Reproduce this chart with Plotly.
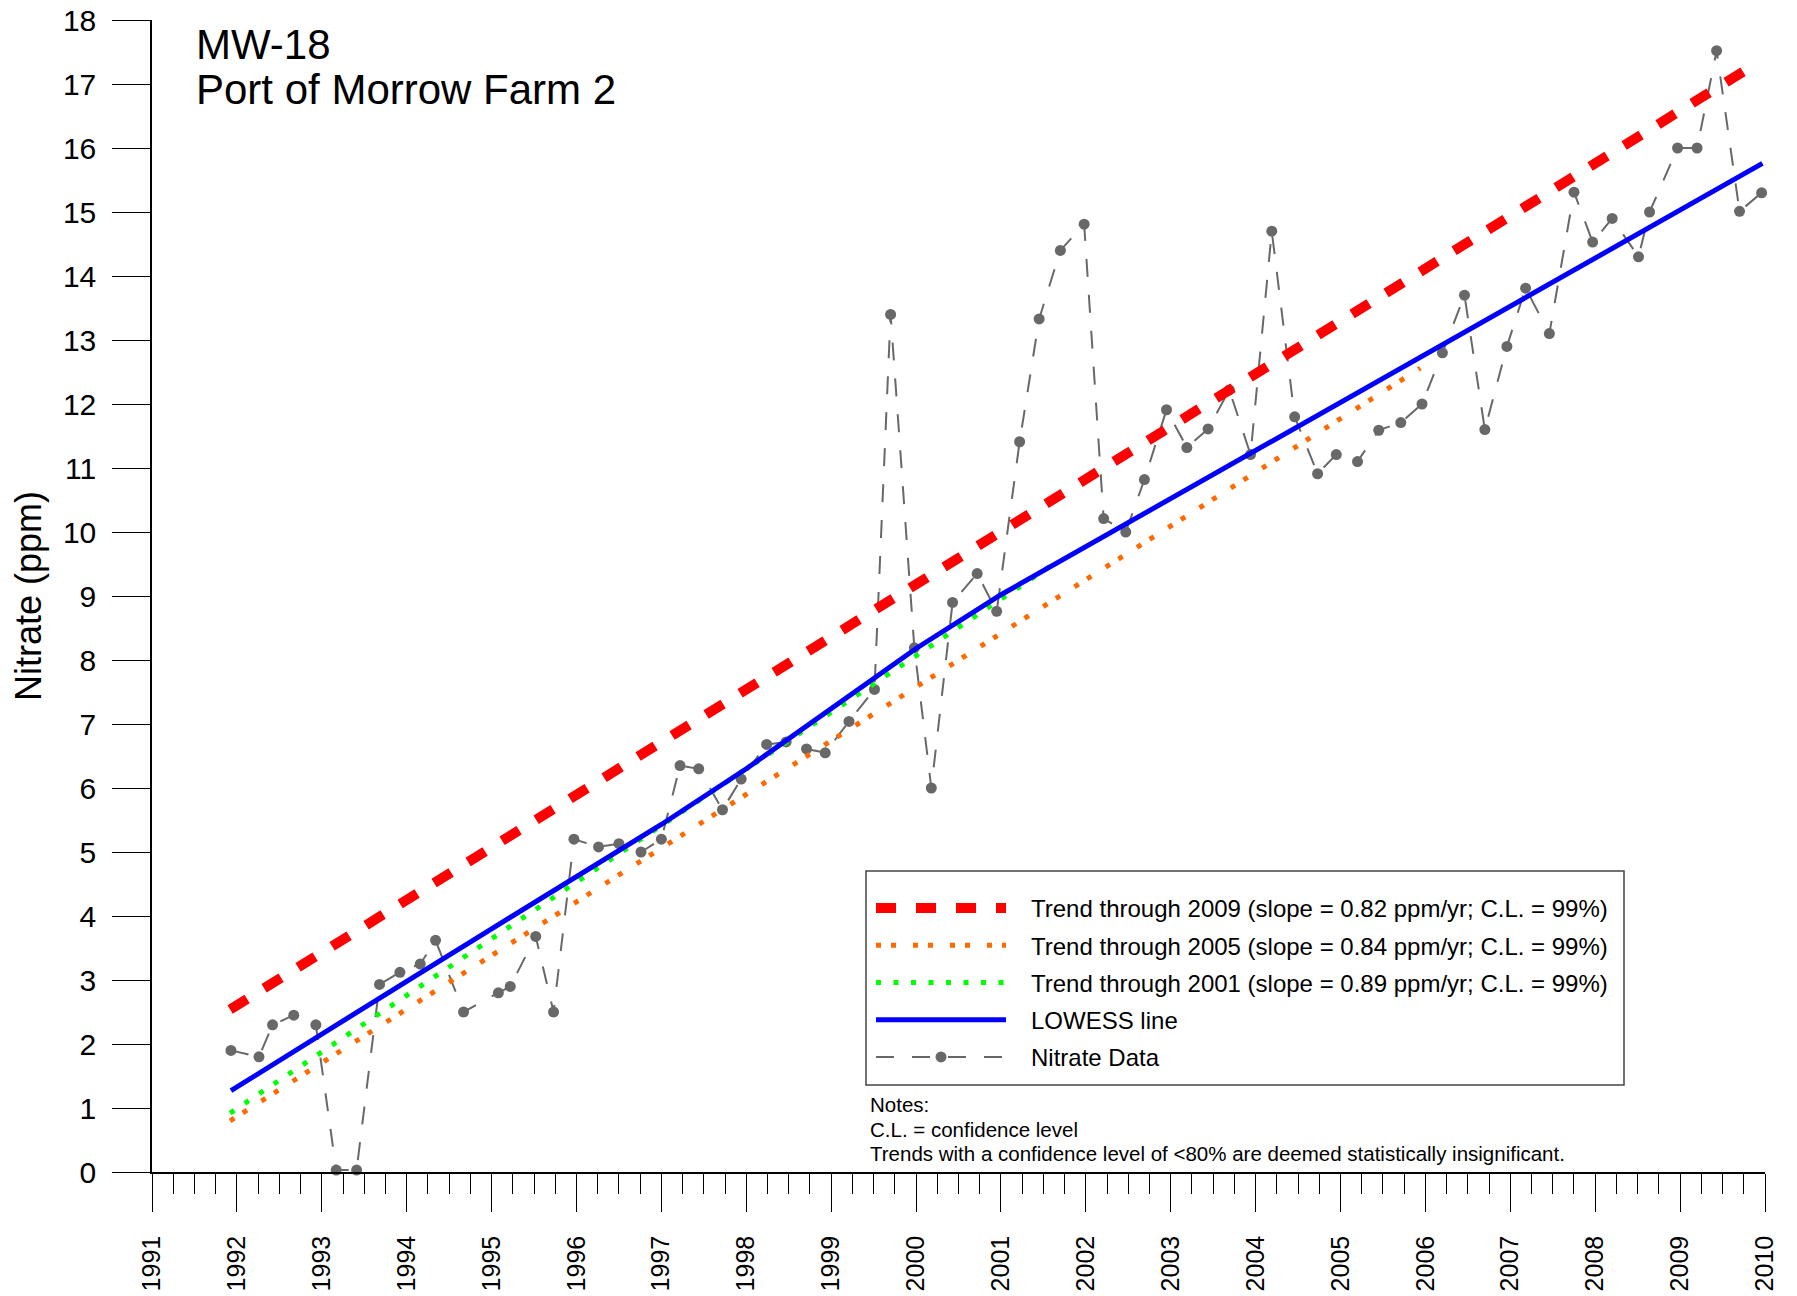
import plotly.graph_objects as go

# ---------------- data ----------------
sample_year = [1991.93, 1992.26, 1992.42, 1992.67, 1992.93, 1993.17, 1993.41, 1993.68,
               1993.92, 1994.16, 1994.34, 1994.67, 1995.08, 1995.22, 1995.52, 1995.73,
               1995.97, 1996.26, 1996.5, 1996.76, 1997.0, 1997.22, 1997.44, 1997.72,
               1997.94, 1998.24, 1998.47, 1998.71, 1998.93, 1999.21, 1999.51, 1999.70,
               1999.98, 2000.18, 2000.43, 2000.72, 2000.95, 2001.22, 2001.45, 2001.70,
               2001.98, 2002.21, 2002.47, 2002.69, 2002.95, 2003.19, 2003.44, 2003.69,
               2003.94, 2004.19, 2004.46, 2004.73, 2004.95, 2005.20, 2005.45, 2005.71,
               2005.96, 2006.20, 2006.46, 2006.70, 2006.96, 2007.18, 2007.46, 2007.75,
               2007.97, 2008.20, 2008.51, 2008.64, 2008.97, 2009.20, 2009.43, 2009.70,
               2009.96]
nitrate = [1.9, 1.8, 2.3, 2.45, 2.3, 0.03, 0.03, 2.93,
           3.12, 3.25, 3.62, 2.5, 2.8, 2.9, 3.68, 2.5,
           5.2, 5.08, 5.13, 5.0, 5.2, 6.35, 6.3, 5.66,
           6.14, 6.68, 6.72, 6.61, 6.55, 7.04, 7.54, 13.4,
           8.19, 6.0, 8.9, 9.35, 8.76, 11.41, 13.33, 14.4,
           14.81, 10.21, 10.0, 10.82, 11.91, 11.32, 11.61, 12.22,
           11.21, 14.7, 11.8, 10.91, 11.21, 11.1, 11.59, 11.71,
           12.0, 12.8, 13.7, 11.6, 12.9, 13.81, 13.1, 15.31,
           14.53, 14.9, 14.3, 15.0, 16.0, 16.0, 17.52, 15.01,
           15.3]

lowess_year = [1991.93, 1993, 1994, 1995, 1996, 1997, 1998, 1999, 2000, 2001,
               2002, 2003, 2004, 2005, 2006, 2007, 2008, 2009, 2009.97]
lowess_val = [1.27, 2.16, 2.98, 3.80, 4.61, 5.43, 6.30, 7.24, 8.18, 9.02,
              9.77, 10.52, 11.27, 12.02, 12.77, 13.52, 14.27, 15.03, 15.76]

trend2009_year = [1991.92, 2009.80]
trend2009_val = [2.54, 17.24]
trend2005_year = [1991.92, 2005.94]
trend2005_val = [0.80, 12.56]
trend2001_year = [1991.92, 2001.62]
trend2001_val = [0.92, 9.50]

legend_labels = [
    "Trend through 2009 (slope = 0.82 ppm/yr; C.L. = 99%)",
    "Trend through 2005 (slope = 0.84 ppm/yr; C.L. = 99%)",
    "Trend through 2001 (slope = 0.89 ppm/yr; C.L. = 99%)",
    "LOWESS line",
    "Nitrate Data",
]
notes = ["Notes:", "C.L. = confidence level",
         "Trends with a confidence level of <80% are deemed statistically insignificant."]
title_lines = ["MW-18", "Port of Morrow Farm 2"]

FONT = "Liberation Sans, Arial, sans-serif"
PAD = "\u00a0\u00a0\u00a0"

# ---------------- figure ----------------
# page body has an 8px margin, so the figure sits at (8, 8) in the window
OFF = 8
W, H = 1797 - OFF, 1296 - OFF
PLOT_L, PLOT_R, PLOT_T, PLOT_B = 152, 1765, 20, 1172   # window pixels
ML, MR = PLOT_L - OFF, W - (PLOT_R - OFF)
MT, MB = PLOT_T - OFF, H - (PLOT_B - OFF)
PW, PH = PLOT_R - PLOT_L, PLOT_B - PLOT_T


def px(xwin):
    return (xwin - PLOT_L) / PW


def py(ywin):
    return (PLOT_B - ywin) / PH


fig = go.Figure()

fig.add_trace(go.Scatter(
    x=sample_year, y=nitrate, mode="lines+markers", name=PAD + legend_labels[4],
    line=dict(color="#686868", width=2, dash="18px,18px"),
    marker=dict(color="#686868", size=11),
    cliponaxis=False, legendrank=5, legendgroup="e"))

fig.add_trace(go.Scatter(
    x=trend2005_year, y=trend2005_val, mode="lines", name=PAD + legend_labels[1],
    line=dict(color="#FF6A00", width=5, dash="5px,10px,5px,17px"),
    legendrank=2, legendgroup="b"))

fig.add_trace(go.Scatter(
    x=trend2001_year, y=trend2001_val, mode="lines", name=PAD + legend_labels[2],
    line=dict(color="#00FF00", width=5, dash="5px,12.5px"),
    legendrank=3, legendgroup="c"))

fig.add_trace(go.Scatter(
    x=lowess_year, y=lowess_val, mode="lines", name=PAD + legend_labels[3],
    line=dict(color="#0000FF", width=5),
    legendrank=4, legendgroup="d"))

fig.add_trace(go.Scatter(
    x=trend2009_year, y=trend2009_val, mode="lines", name=PAD + legend_labels[0],
    line=dict(color="#FF0000", width=10, dash="20px,20px"),
    legendrank=1, legendgroup="a"))

fig.update_layout(
    width=W, height=H,
    margin=dict(l=ML, r=MR, t=MT, b=MB, autoexpand=False),
    plot_bgcolor="white", paper_bgcolor="white",
    font=dict(family=FONT, color="black"),
    showlegend=True,
    legend=dict(
        x=px(871), y=py(886), xanchor="left", yanchor="top",
        bgcolor="rgba(0,0,0,0)", borderwidth=0,
        font=dict(size=24, family=FONT, color="black"),
        itemwidth=130, tracegroupgap=3, traceorder="grouped",
        itemclick=False,
    ),
    xaxis=dict(
        range=[1991, 2010], tickmode="linear", tick0=1991, dtick=1,
        ticks="outside", ticklen=38, tickwidth=1, tickcolor="black",
        showline=True, linecolor="black", linewidth=1.5,
        showgrid=False, zeroline=False, tickangle=-90, automargin=False,
        ticklabeloverflow="allow",
        tickfont=dict(size=25, family=FONT, color="black"),
        ticklabelstandoff=14,
        minor=dict(tick0=1991, dtick=0.25, ticks="outside", ticklen=20,
                   tickwidth=1, tickcolor="black", showgrid=False),
    ),
    yaxis=dict(
        range=[0, 18], tickmode="linear", tick0=0, dtick=1,
        ticks="outside", ticklen=38, tickwidth=1, tickcolor="black",
        showline=True, linecolor="black", linewidth=1.5,
        showgrid=False, zeroline=False, automargin=False,
        ticklabeloverflow="allow",
        tickfont=dict(size=30, family=FONT, color="black"),
        ticklabelstandoff=10,
        title=dict(text="Nitrate (ppm)", font=dict(size=36, family=FONT, color="black"),
                   standoff=10),
    ),
)

# legend frame
fig.add_shape(type="rect", xref="paper", yref="paper",
              x0=px(866), x1=px(1624), y0=py(1085), y1=py(871),
              line=dict(color="#444444", width=1.5), fillcolor="rgba(0,0,0,0)")

# title text
fig.add_annotation(text=title_lines[0], xref="paper", yref="paper", x=px(194), y=py(44),
                   xanchor="left", yanchor="middle", showarrow=False,
                   font=dict(size=42, family=FONT, color="black"))
fig.add_annotation(text=title_lines[1], xref="paper", yref="paper", x=px(194), y=py(89),
                   xanchor="left", yanchor="middle", showarrow=False,
                   font=dict(size=42, family=FONT, color="black"))

# notes
for txt, ypix in zip(notes, [1104, 1129, 1153]):
    fig.add_annotation(text=txt, xref="paper", yref="paper", x=px(868), y=py(ypix),
                       xanchor="left", yanchor="middle", showarrow=False,
                       font=dict(size=20.5, family=FONT, color="black"))

fig.write_html("out.html")
